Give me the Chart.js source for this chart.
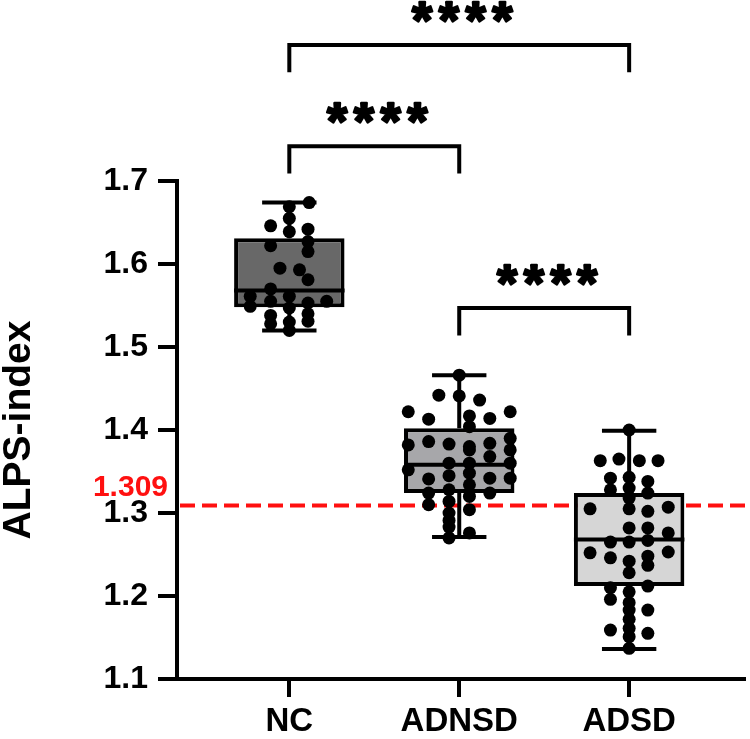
<!DOCTYPE html>
<html>
<head>
<meta charset="utf-8">
<script src="https://cdn.jsdelivr.net/npm/chart.js@4.4.0/dist/chart.umd.min.js"></script>
<style>
html,body{margin:0;padding:0;background:#fff;}
#wrap{width:750px;height:739px;position:relative;}
</style>
</head>
<body>
<div id="wrap"><canvas id="c"></canvas></div>
<script>
// ---------- data ----------
const categories = ['NC', 'ADNSD', 'ADSD'];
const yTickValues = [1.1, 1.2, 1.3, 1.4, 1.5, 1.6, 1.7];

const boxMin    = [1.520, 1.271, 1.136];
const boxQ1     = [1.548, 1.324, 1.212];
const boxMedian = [1.568, 1.358, 1.268];
const boxQ3     = [1.631, 1.402, 1.324];
const boxMax    = [1.674, 1.466, 1.399];

const ncValues = [1.674,1.669,1.655,1.646,1.642,1.639,1.627,1.622,1.615,1.595,1.593,1.581,1.570,1.561,1.561,1.555,1.553,1.555,1.549,1.547,1.538,1.540,1.530,1.528,1.531,1.520];
const ncJitter = [0.117,0,0,-0.11,0.11,0,0.11,-0.11,0.11,-0.055,0.06,0.11,-0.11,-0.23,0,-0.11,0.11,0.22,-0.23,0,-0.11,0.11,0,-0.11,0.11,0];

const adnsdValues = [1.466,1.442,1.441,1.436,1.422,1.422,1.413,1.417,1.414,1.404,1.382,1.386,1.383,1.380,1.384,1.390,1.376,1.376,1.368,1.360,1.360,1.360,1.352,1.341,1.345,1.348,1.342,1.342,1.334,1.328,1.324,1.324,1.320,1.310,1.314,1.300,1.304,1.291,1.283,1.276,1.270];
const adnsdJitter = [0,-0.12,0,0.12,-0.30,0.30,-0.18,0.06,0.18,0.06,-0.30,-0.18,-0.06,0.06,0.18,0.30,0.30,0.06,0.18,0.30,-0.06,0.06,-0.30,-0.18,-0.06,0.06,0.18,0.30,0.06,-0.06,-0.18,0.18,0.06,-0.18,-0.06,-0.06,0.06,-0.06,-0.06,0.06,-0.06];

const adsdValues = [1.400,1.363,1.365,1.363,1.363,1.342,1.343,1.338,1.328,1.330,1.324,1.318,1.305,1.305,1.302,1.307,1.282,1.282,1.276,1.265,1.265,1.267,1.252,1.246,1.242,1.248,1.237,1.253,1.228,1.210,1.205,1.212,1.196,1.192,1.183,1.183,1.172,1.159,1.161,1.155,1.151,1.137];
const adsdJitter = [0,-0.17,-0.06,0.06,0.17,-0.11,0,0.11,-0.11,0,0.11,0,-0.23,0,0.11,0.23,0,0.11,0.23,-0.11,0,0.11,-0.23,-0.11,0,0.11,0.11,0.23,0,-0.11,0,0.11,-0.11,0,0.11,0,0,-0.11,0,0.11,0,0];

const cutoffValue = 1.309;
const cutoffLabel = '1.309';

// significance comparisons: from/to category index, bracket level (y units)
const compFrom  = [1, 0, 0];
const compTo    = [2, 1, 2];
const compLevel = [1.547, 1.742, 1.864];
const compLabel = ['****', '****', '****'];

// ---------- styling ----------
const FONT = '"Liberation Sans", Arial, Helvetica, sans-serif';
const boxFill = ['#686868', '#a7a7aa', '#d6d6d6'];
const bracketDrop = 0.033;
const starLift = 0.040;

function pts(vals, jit, idx) {
  return vals.map((v, i) => ({ x: idx + jit[i], y: v }));
}

const overlay = {
  id: 'overlay',
  beforeDatasetsDraw(chart) {
    const { ctx, chartArea, scales: { y } } = chart;
    const py = y.getPixelForValue(cutoffValue);
    ctx.save();
    ctx.strokeStyle = '#ff1010';
    ctx.lineWidth = 4;
    ctx.setLineDash([15, 7]);
    ctx.beginPath();
    ctx.moveTo(chartArea.left + 3, py);
    ctx.lineTo(chart.width, py);
    ctx.stroke();
    ctx.setLineDash([]);
    ctx.fillStyle = '#ff1010';
    ctx.font = 'bold 30px ' + FONT;
    ctx.textAlign = 'right';
    ctx.textBaseline = 'alphabetic';
    ctx.fillText(cutoffLabel, chartArea.left - 9, py - 10);
    ctx.restore();
  },
  afterDatasetDraw(chart, args) {
    if (chart.data.datasets[args.index].type !== 'bar') return;
    const { ctx, scales: { x, y } } = chart;
    ctx.save();
    ctx.strokeStyle = '#000';
    ctx.lineWidth = 4;
    ctx.lineCap = 'butt';
    const meta = chart.getDatasetMeta(args.index);
    categories.forEach((c, i) => {
      const cx = x.getPixelForValue(i);
      const bar = meta.data[i];
      const half = bar.width / 2;
      const capHalf = (x.getPixelForValue(0.16) - x.getPixelForValue(0));
      ctx.beginPath();
      ctx.moveTo(cx, y.getPixelForValue(boxQ3[i]));
      ctx.lineTo(cx, y.getPixelForValue(boxMax[i]));
      ctx.moveTo(cx, y.getPixelForValue(boxQ1[i]));
      ctx.lineTo(cx, y.getPixelForValue(boxMin[i]));
      ctx.stroke();
      ctx.beginPath();
      ctx.moveTo(cx - capHalf, y.getPixelForValue(boxMax[i]));
      ctx.lineTo(cx + capHalf, y.getPixelForValue(boxMax[i]));
      ctx.moveTo(cx - capHalf, y.getPixelForValue(boxMin[i]));
      ctx.lineTo(cx + capHalf, y.getPixelForValue(boxMin[i]));
      ctx.stroke();
      ctx.beginPath();
      ctx.moveTo(cx - half, y.getPixelForValue(boxMedian[i]));
      ctx.lineTo(cx + half, y.getPixelForValue(boxMedian[i]));
      ctx.stroke();
    });
    ctx.restore();
  },
  afterDraw(chart) {
    const { ctx, scales: { x, y } } = chart;
    ctx.save();
    ctx.strokeStyle = '#000';
    ctx.fillStyle = '#000';
    ctx.font = 'bold 52px ' + FONT;
    const m = ctx.measureText('*');
    const asc = m.actualBoundingBoxAscent, desc = m.actualBoundingBoxDescent;
    compFrom.forEach((f, k) => {
      const x1 = x.getPixelForValue(f), x2 = x.getPixelForValue(compTo[k]);
      const yb = y.getPixelForValue(compLevel[k]);
      const yl = y.getPixelForValue(compLevel[k] - bracketDrop);
      ctx.lineWidth = 4;
      ctx.lineJoin = 'miter';
      ctx.beginPath();
      ctx.moveTo(x1, yl);
      ctx.lineTo(x1, yb);
      ctx.lineTo(x2, yb);
      ctx.lineTo(x2, yl);
      ctx.stroke();
      const ys = y.getPixelForValue(compLevel[k] + starLift);
      const label = compLabel[k];
      const spacing = 26.7;
      const mid = (x1 + x2) / 2 + 3;
      ctx.textAlign = 'center';
      ctx.textBaseline = 'alphabetic';
      ctx.lineWidth = 2.5;
      ctx.lineJoin = 'round';
      for (let s = 0; s < label.length; s++) {
        const sx = mid + (s - (label.length - 1) / 2) * spacing;
        const by = ys + (asc - desc) / 2;
        ctx.fillText(label[s], sx, by);
        ctx.strokeText(label[s], sx, by);
      }
    });
    ctx.restore();
  }
};

new Chart(document.getElementById('c'), {
  type: 'bar',
  data: {
    datasets: [
      {
        type: 'bar',
        order: 2,
        data: categories.map((c, i) => ({ x: i, y: [boxQ1[i], boxQ3[i]] })),
        backgroundColor: boxFill,
        borderColor: '#000',
        borderWidth: 4,
        borderSkipped: false,
        categoryPercentage: 0.65,
        barPercentage: 1.0
      },
      { type: 'scatter', order: 1, data: pts(ncValues, ncJitter, 0), pointRadius: 6.5, pointBackgroundColor: '#000', pointBorderWidth: 0 },
      { type: 'scatter', order: 1, data: pts(adnsdValues, adnsdJitter, 1), pointRadius: 6.5, pointBackgroundColor: '#000', pointBorderWidth: 0 },
      { type: 'scatter', order: 1, data: pts(adsdValues, adsdJitter, 2), pointRadius: 6.5, pointBackgroundColor: '#000', pointBorderWidth: 0 }
    ]
  },
  options: {
    responsive: true,
    maintainAspectRatio: false,
    devicePixelRatio: 1,
    animation: false,
    layout: { padding: { top: 181, right: 3, left: 0, bottom: 0 } },
    plugins: { legend: { display: false }, tooltip: { enabled: false } },
    scales: {
      x: {
        type: 'linear',
        min: -0.661,
        max: 2.673,
        offset: false,
        afterBuildTicks: s => { s.ticks = categories.map((c, i) => ({ value: i })); },
        afterFit: s => { s.height = 60; },
        ticks: {
          callback: v => categories[v],
          color: '#000',
          font: { family: FONT, size: 33, weight: 'bold' },
          padding: 5,
          autoSkip: false,
          maxRotation: 0
        },
        grid: { offset: false, drawOnChartArea: false, color: '#000', lineWidth: 4, tickLength: 18 },
        border: { color: '#000', width: 4 }
      },
      y: {
        min: 1.1,
        max: 1.7,
        afterBuildTicks: s => { s.ticks = yTickValues.map(v => ({ value: v })); },
        afterFit: s => { s.width = 177; },
        ticks: {
          callback: v => Number(v).toFixed(1),
          color: '#000',
          font: { family: FONT, size: 32, weight: 'bold' },
          padding: 10
        },
        grid: { drawOnChartArea: false, color: '#000', lineWidth: 4, tickLength: 19 },
        border: { color: '#000', width: 4 },
        title: {
          display: true,
          text: 'ALPS-index',
          color: '#000',
          font: { family: FONT, size: 39, weight: 'bold', lineHeight: 1 },
          padding: { top: 0, bottom: 0 }
        }
      }
    }
  },
  plugins: [overlay]
});
</script>
</body>
</html>
